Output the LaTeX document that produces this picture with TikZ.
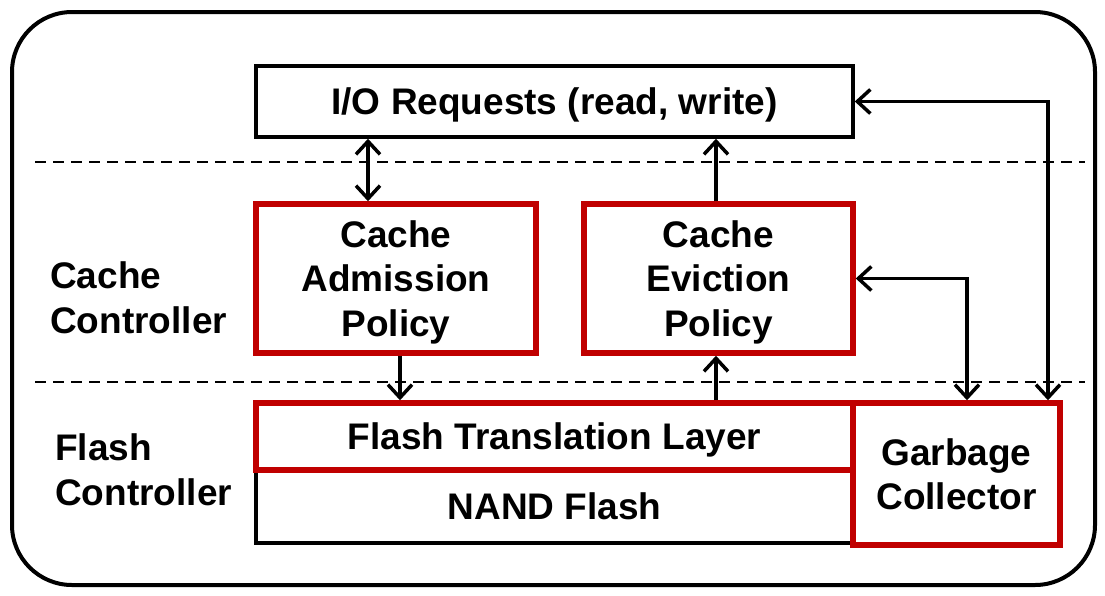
\documentclass[tikz,border=0pt]{standalone}
\usepackage{fontspec}
\setmainfont{Liberation Sans}
\usetikzlibrary{arrows.meta}
\definecolor{boxred}{RGB}{192,0,0}
\tikzset{
  lbl/.style={font=\fontsize{37}{44.5}\selectfont\bfseries, align=center, text depth=0pt},
  blackbox/.style={draw=black, line width=3.5pt, fill=white, inner sep=0pt, lbl},
  redbox/.style={draw=boxred, line width=5.5pt, fill=white, inner sep=0pt, lbl},
  tip/.style={},
  arr/.style={line width=3.5pt, arrows={-Straight Barb[length=13pt,width=24pt]}},
  darr/.style={line width=3.5pt, arrows={Straight Barb[length=13pt,width=24pt]-Straight Barb[length=13pt,width=24pt]}},
  sep/.style={line width=1.5pt, dash pattern=on 11pt off 7pt},
  side/.style={font=\fontsize{37}{45}\selectfont\bfseries, align=left, anchor=west, inner sep=0pt}
}
\begin{document}
\begin{tikzpicture}[x=1pt,y=-1pt]
\useasboundingbox (0,0) rectangle (1105,595);
\node[draw, line width=4pt, rounded corners=60pt, minimum width=1083pt, minimum height=573pt, inner sep=0pt] (frame) at (553.5,298.5) {};
% separators
\coordinate (s1a) at (35,162); \coordinate (s1b) at (1085,162);
\coordinate (s2a) at (35,382); \coordinate (s2b) at (1085,382);
\draw[sep] (s1a) -- (s1b);
\draw[sep] (s2a) -- (s2b);
% boxes
\node[blackbox, minimum width=597pt, minimum height=71pt] (io) at (554.5,101.5) {I/O Requests (read, write)};
\node[redbox, minimum width=280pt, minimum height=149pt] (adm) at (396,278.5) {Cache\\Admission\\Policy};
\node[redbox, minimum width=269pt, minimum height=149pt] (evi) at (718.5,278.5) {Cache\\Eviction\\Policy};
\node[blackbox, minimum width=597pt, minimum height=73pt] (nand) at (554.5,506.5) {NAND Flash};
\node[redbox, minimum width=597pt, minimum height=67pt] (ftl) at (554.5,436.5) {Flash Translation Layer};
\node[redbox, minimum width=207pt, minimum height=142pt] (gc) at (956.5,474) {Garbage\\Collector};
% side labels
\node[side] (cc) at (50,297.5) {Cache\\Controller};
\node[side] (fc) at (55,469.5) {Flash\\Controller};
% connector x positions
\coordinate (xa) at (368,0);
\coordinate (xb) at (400,0);
\coordinate (xc) at (716,0);
\coordinate (xd) at (967,0);
\coordinate (xe) at (1048,0);
% connectors
\draw[darr] (io.south -| xa) -- (adm.north -| xa);
\draw[arr] (evi.north -| xc) -- (io.south -| xc);
\draw[arr] (adm.south -| xb) -- (ftl.north -| xb);
\draw[arr] (ftl.north -| xc) -- (evi.south -| xc);
\draw[darr] (evi.east) -| (gc.north -| xd);
\draw[darr] (io.east) -| (gc.north -| xe);
\end{tikzpicture}
\end{document}
